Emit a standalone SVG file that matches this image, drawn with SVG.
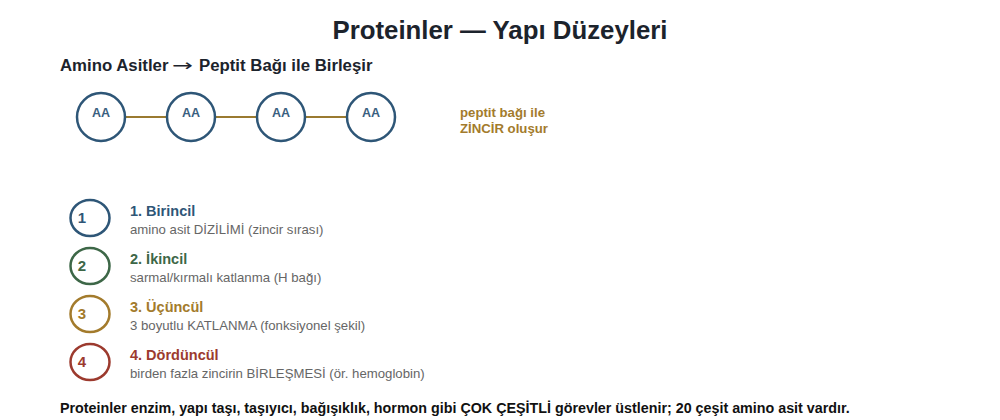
<svg xmlns="http://www.w3.org/2000/svg" width="1000" height="420" viewBox="0 0 1000 420">
<style>
text{font-family:"Liberation Sans",Arial,sans-serif}
.aa circle{fill:#fff;stroke:#2e5677;stroke-width:2.5}
.aa text{font-size:12.5px;font-weight:bold;fill:#3a6080;text-anchor:middle}
.lvl ellipse{fill:#fff;stroke-width:2.5}
.num{font-size:15px;font-weight:bold;text-anchor:middle}
.lt{font-size:14.5px;font-weight:bold}
.ld{font-size:13.2px;fill:#666}
.bond{stroke:#9a7a30;stroke-width:2}
</style>
<rect width="1000" height="420" fill="#fff"/>
<text x="500" y="39" font-size="25.8" font-weight="bold" fill="#1c232c" text-anchor="middle">Proteinler — Yapı Düzeyleri</text>
<text x="60" y="71" font-size="16.8" font-weight="bold" fill="#1c232c">Amino Asitler <tspan x="172" font-family="'DejaVu Sans',sans-serif" font-weight="normal" textLength="21" lengthAdjust="spacingAndGlyphs">→</tspan> <tspan x="199">Peptit Bağı ile Birleşir</tspan></text>
<g id="connectors">
<line class="bond" x1="125" y1="117" x2="167" y2="117"/>
<line class="bond" x1="215" y1="117" x2="257" y2="117"/>
<line class="bond" x1="305" y1="117" x2="347" y2="117"/>
</g>
<g id="aa1" class="aa"><circle cx="101" cy="117" r="24"/><text x="101" y="117">AA</text></g>
<g id="aa2" class="aa"><circle cx="191" cy="117" r="24"/><text x="191" y="117">AA</text></g>
<g id="aa3" class="aa"><circle cx="281" cy="117" r="24"/><text x="281" y="117">AA</text></g>
<g id="aa4" class="aa"><circle cx="371" cy="117" r="24"/><text x="371" y="117">AA</text></g>
<g id="note" font-size="13.2" font-weight="bold" fill="#a37b2c">
<text x="460" y="117">peptit bağı ile</text>
<text x="460" y="133">ZİNCİR oluşur</text>
</g>
<g id="level1" class="lvl"><ellipse cx="90" cy="218" rx="19.5" ry="18" stroke="#2e5677"/><text class="num" x="82" y="223" fill="#2e5677">1</text><text class="lt" x="130" y="216" fill="#2e5677">1. Birincil</text><text class="ld" x="130" y="234">amino asit DİZİLİMİ (zincir sırası)</text></g>
<g id="level2" class="lvl"><ellipse cx="90" cy="266" rx="19.5" ry="18" stroke="#3d6747"/><text class="num" x="82" y="271" fill="#3d6747">2</text><text class="lt" x="130" y="264" fill="#3d6747">2. İkincil</text><text class="ld" x="130" y="282">sarmal/kırmalı katlanma (H bağı)</text></g>
<g id="level3" class="lvl"><ellipse cx="90" cy="314" rx="19.5" ry="18" stroke="#a37b2c"/><text class="num" x="82" y="319" fill="#a37b2c">3</text><text class="lt" x="130" y="312" fill="#a37b2c">3. Üçüncül</text><text class="ld" x="130" y="330">3 boyutlu KATLANMA (fonksiyonel şekil)</text></g>
<g id="level4" class="lvl"><ellipse cx="90" cy="362" rx="19.5" ry="18" stroke="#9c3a2e"/><text class="num" x="82" y="367" fill="#9c3a2e">4</text><text class="lt" x="130" y="360" fill="#9c3a2e">4. Dördüncül</text><text class="ld" x="130" y="378">birden fazla zincirin BİRLEŞMESİ (ör. hemoglobin)</text></g>
<text x="60" y="413" font-size="14.3" font-weight="bold" fill="#111">Proteinler enzim, yapı taşı, taşıyıcı, bağışıklık, hormon gibi ÇOK ÇEŞİTLİ görevler üstlenir; 20 çeşit amino asit vardır.</text>
</svg>
